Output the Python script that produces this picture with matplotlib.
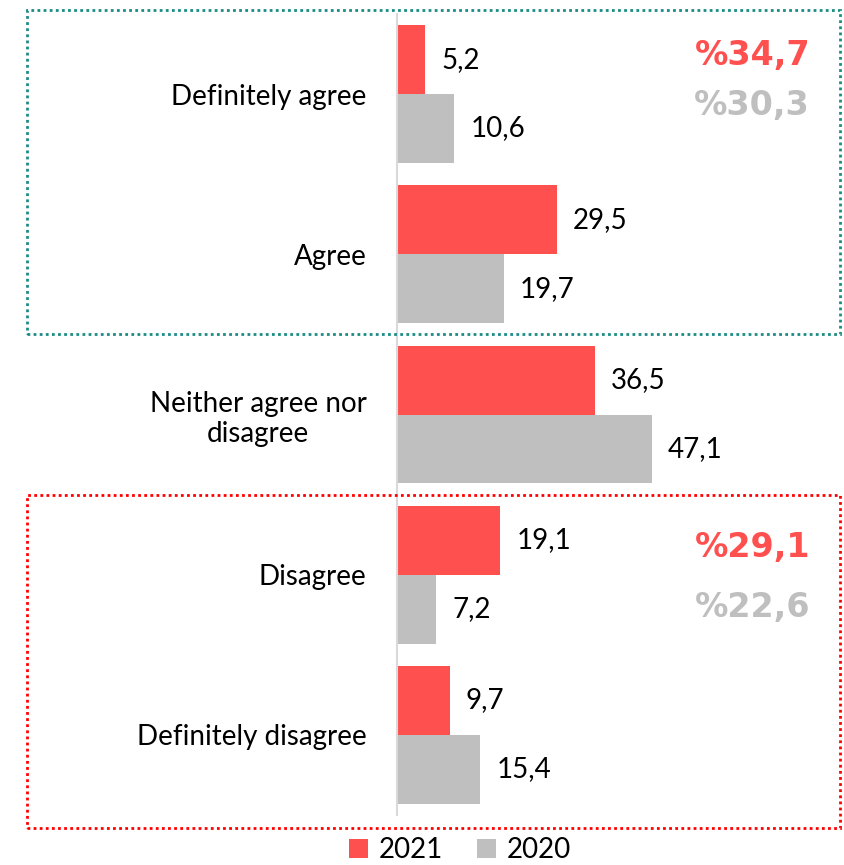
import numpy as np
import matplotlib.pyplot as plt
from matplotlib.patches import Rectangle

categories = ["Definitely agree", "Agree", "Neither agree nor\ndisagree", "Disagree", "Definitely disagree"]
vals_2021 = [5.2, 29.5, 36.5, 19.1, 9.7]
vals_2020 = [10.6, 19.7, 47.1, 7.2, 15.4]
series_names = ["2021", "2020"]
totals_agree = ["%34,7", "%30,3"]
totals_disagree = ["%29,1", "%22,6"]

RED = "#FF5050"
GRAY = "#BFBFBF"
FONT = "Lato"
FS = 20

W, H = 844, 865
fig = plt.figure(figsize=(W / 100, H / 100), dpi=100)
ax = fig.add_axes([397 / W, 1 - 815 / H, (830 - 397) / W, (815 - 14) / H])

y = np.arange(len(categories))
h = 0.43
ax.barh(y - h / 2, vals_2021, height=h, color=RED, label=series_names[0])
ax.barh(y + h / 2, vals_2020, height=h, color=GRAY, label=series_names[1])
ax.set_xlim(0, 80)
ax.set_ylim(4.5, -0.5)

for i in range(len(categories)):
    ax.text(vals_2021[i] + 3.0, y[i] - h / 2, f"{vals_2021[i]:.1f}".replace(".", ","),
            va="center", ha="left", fontsize=FS, family=FONT)
    ax.text(vals_2020[i] + 3.0, y[i] + h / 2, f"{vals_2020[i]:.1f}".replace(".", ","),
            va="center", ha="left", fontsize=FS, family=FONT)

ax.set_yticks(y)
ax.set_yticklabels(categories, fontsize=FS, family=FONT, multialignment="center")
ax.tick_params(axis="y", length=0, pad=22)
ax.set_xticks([])
for s in ["top", "right", "bottom"]:
    ax.spines[s].set_visible(False)
ax.spines["left"].set_color("#D9D9D9")
ax.spines["left"].set_linewidth(1.5)

# dotted group boxes
fig.patches.append(Rectangle((27 / W, 1 - 334 / H), (840 - 27) / W, (334 - 10) / H,
                             transform=fig.transFigure, fill=False, edgecolor="#1A8C84",
                             linestyle=(0, (1, 1.2)), linewidth=2))
fig.patches.append(Rectangle((27 / W, 1 - 828 / H), (840 - 27) / W, (828 - 495) / H,
                             transform=fig.transFigure, fill=False, edgecolor="#FF0000",
                             linestyle=(0, (1, 1.2)), linewidth=2))

# totals
fig.text(810 / W, 1 - 55 / H, totals_agree[0], ha="right", va="center", fontsize=24,
         fontweight="bold", color=RED)
fig.text(810 / W, 1 - 105 / H, totals_agree[1], ha="right", va="center", fontsize=24,
         fontweight="bold", color=GRAY)
fig.text(810 / W, 1 - 548 / H, totals_disagree[0], ha="right", va="center", fontsize=24,
         fontweight="bold", color=RED)
fig.text(810 / W, 1 - 607 / H, totals_disagree[1], ha="right", va="center", fontsize=24,
         fontweight="bold", color=GRAY)

fig.legend(loc="center", bbox_to_anchor=(460 / W, 1 - 850 / H), ncol=2, frameon=False,
           prop={"family": FONT, "size": FS}, handlelength=0.7, handleheight=0.7,
           handletextpad=0.4, columnspacing=1.2)

fig.savefig("out.png", dpi=100)
